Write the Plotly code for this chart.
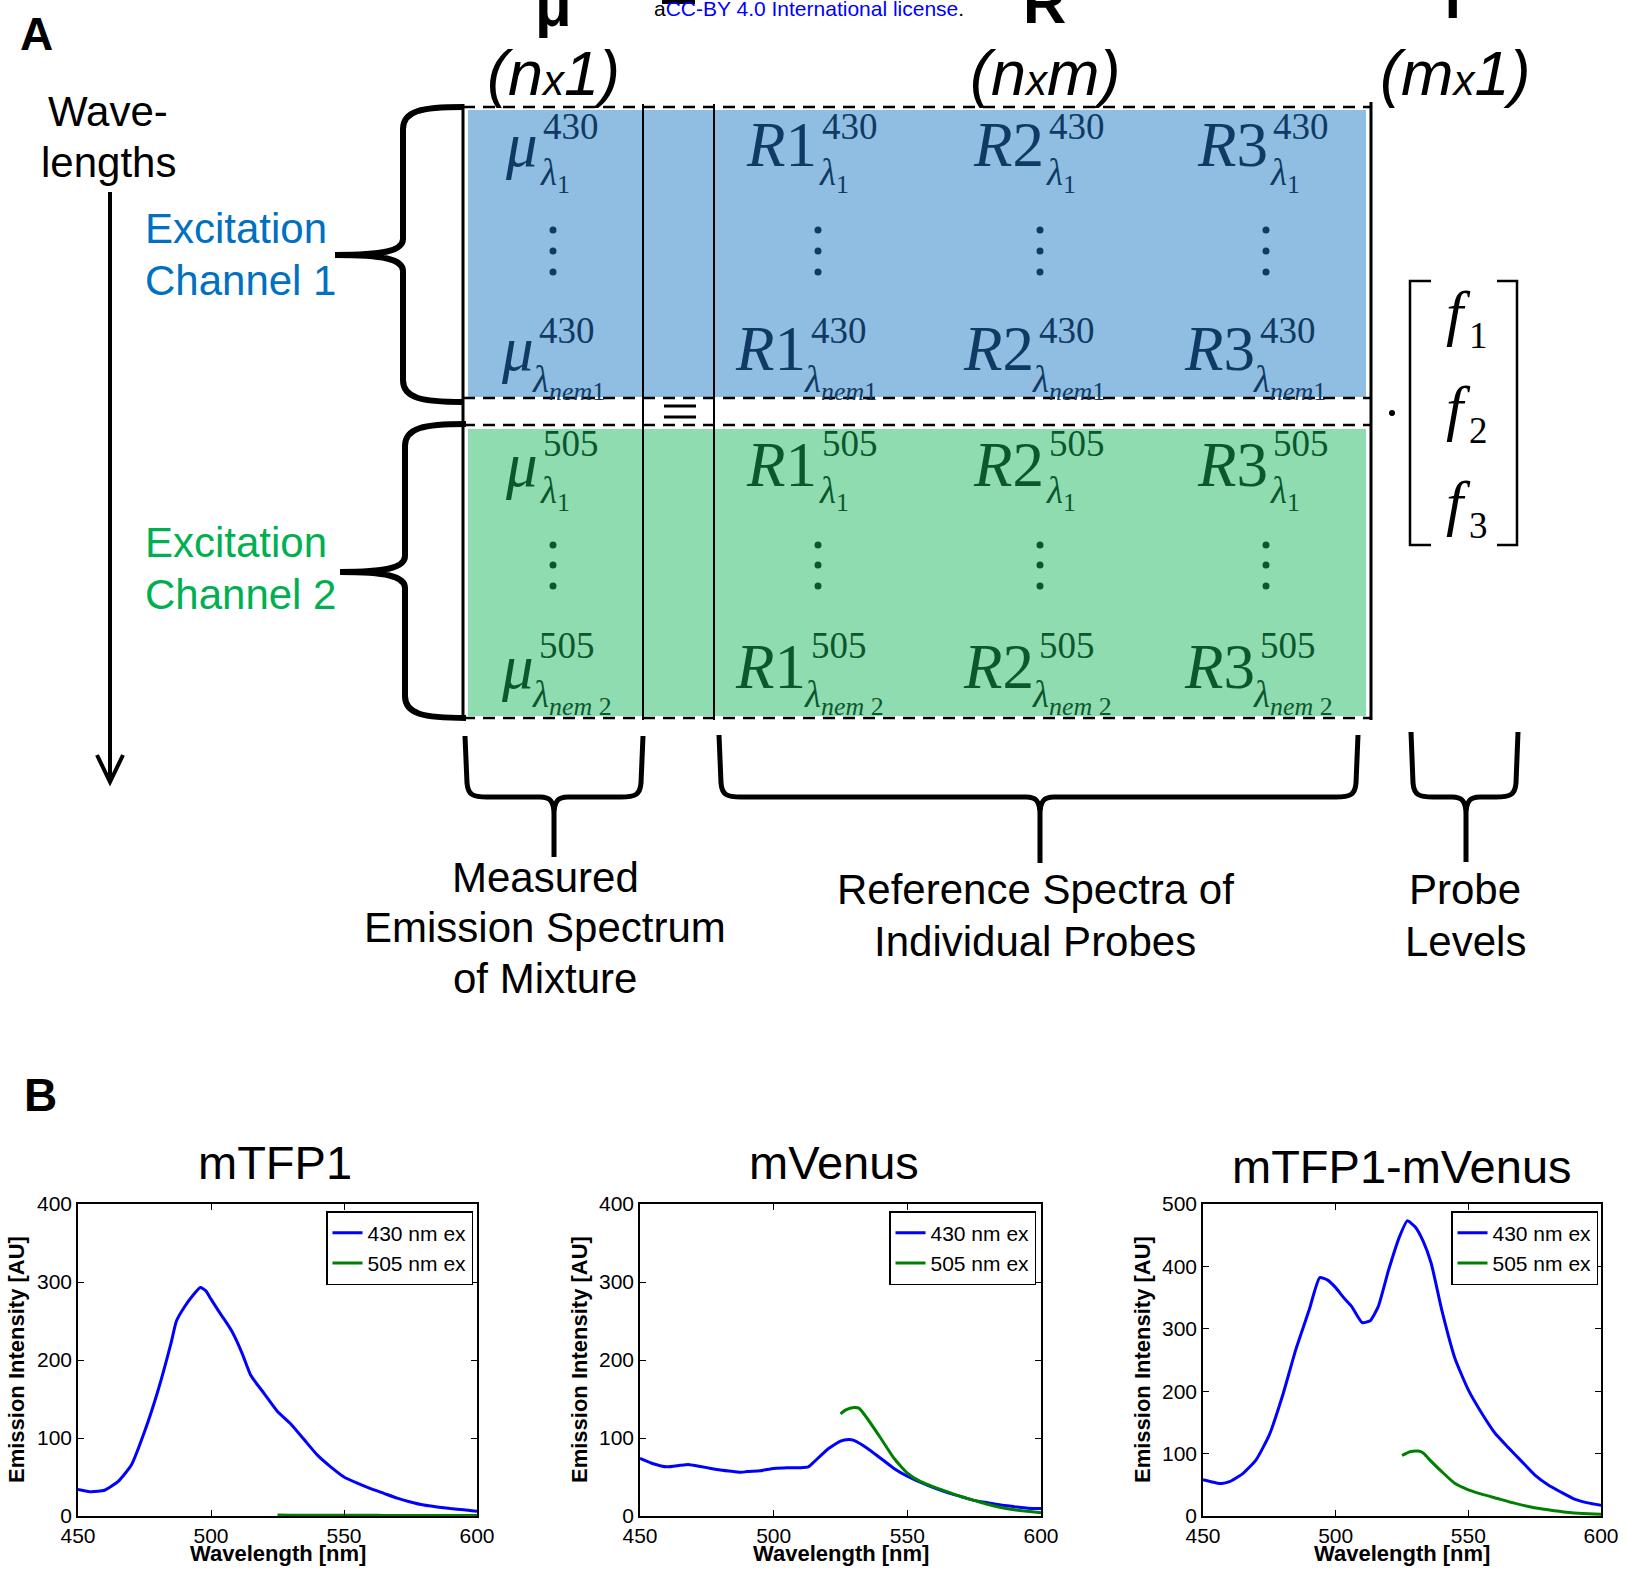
import plotly.graph_objects as go

W, H = 1627, 1569
SANS = "Liberation Sans, Arial, sans-serif"
SERIF = "Liberation Serif, Times New Roman, serif"

# ---------------- Panel B data ----------------
series_names = ["430 nm ex", "505 nm ex"]
chart_titles = ["mTFP1", "mVenus", "mTFP1-mVenus"]
x_ticks = [450, 500, 550, 600]
y_ticks_400 = [0, 100, 200, 300, 400]
y_ticks_500 = [0, 100, 200, 300, 400, 500]

tfp_430_x = [450, 455, 460, 465, 470, 475, 480, 485, 487, 490, 493, 496, 498, 500, 503, 505, 508, 510,
             512, 515, 520, 525, 530, 535, 540, 545, 550, 555, 560, 565, 570, 575, 580, 585, 590, 595, 600]
tfp_430_y = [34, 31, 33, 44, 65, 108, 160, 222, 250, 268, 282, 293, 289, 278, 262, 252, 236, 222,
             206, 180, 157, 134, 118, 98, 78, 63, 50, 42, 35, 29, 23, 18, 14, 11.5, 9.5, 8, 6]
tfp_505_x = [525, 530, 535, 540, 545, 550, 555, 560, 565, 570, 575, 580, 585, 590, 595, 600]
tfp_505_y = [1.2, 1.1, 1.0, 1.0, 1.0, 0.9, 0.9, 0.9, 0.8, 0.8, 0.8, 0.8, 0.7, 0.7, 0.7, 0.7]

ven_430_x = [450, 455, 460, 465, 468, 470, 475, 480, 485, 488, 490, 495, 500, 505, 510, 513, 515, 520,
             525, 528, 530, 535, 540, 545, 550, 555, 560, 565, 570, 575, 580, 585, 590, 595, 600]
ven_430_y = [74, 67, 63, 65, 66, 65, 62, 59, 57, 56, 57, 58, 61, 62, 62, 63, 69, 85,
             96, 98, 97, 87, 74, 61, 51, 43, 36, 30, 25, 20, 17, 14, 12, 10, 9.5]
ven_505_x = [525, 527, 530, 532, 535, 540, 545, 550, 555, 560, 565, 570, 575, 580, 585, 590, 595, 600]
ven_505_y = [131, 136, 139, 138, 125, 100, 74, 55, 44, 37, 31, 25, 20, 15, 11, 8, 6, 4]

fus_430_x = [450, 455, 457, 460, 465, 470, 475, 480, 485, 490, 494, 497, 500, 503, 506, 510, 513, 516,
             520, 524, 527, 530, 533, 536, 540, 545, 550, 555, 560, 565, 570, 575, 580, 585, 590, 595, 600]
fus_430_y = [58, 53, 52, 55, 68, 90, 130, 193, 267, 330, 382, 378, 366, 350, 336, 310, 313, 335,
             395, 447, 473, 463, 440, 405, 330, 252, 202, 165, 133, 110, 88, 66, 50, 38, 27, 21, 17]
fus_505_x = [525, 528, 531, 533, 535, 540, 545, 550, 555, 561, 567, 574, 580, 587, 593, 600]
fus_505_y = [97, 103, 104, 101, 92, 71, 52, 42, 35, 28, 21, 14, 10, 6, 4, 3]

# ---------------- Panel A text ----------------
mat_main = ["<i>μ</i>", "<i>R</i>1", "<i>R</i>2", "<i>R</i>3"]
mat_sup = ["430", "430", "505", "505"]
mat_sub = ["<i>λ</i><sub>1</sub>", "<i>λ</i><sub><i>nem</i>1</sub>",
           "<i>λ</i><sub>1</sub>", "<i>λ</i><sub><i>nem</i> 2</sub>"]
label_wave = ["Wave-", "lengths"]
label_ch1 = ["Excitation", "Channel 1"]
label_ch2 = ["Excitation", "Channel 2"]
label_measured = ["Measured", "Emission Spectrum", "of Mixture"]
label_reference = ["Reference Spectra of", "Individual Probes"]
label_probe = ["Probe", "Levels"]

BLUE_FILL = "rgb(143,190,226)"
GREEN_FILL = "rgb(144,220,177)"
BLUE_TXT = "rgb(16,58,99)"
GREEN_TXT = "rgb(11,88,44)"
CH1 = "rgb(0,112,192)"
CH2 = "rgb(0,176,80)"


def X(x):
    return x / W


def Y(y):
    return 1 - y / H


shapes = []
annotations = []


def rect(x0, y0, x1, y1, fill, layer="below"):
    shapes.append(dict(type="rect", xref="paper", yref="paper", x0=X(x0), x1=X(x1), y0=Y(y1), y1=Y(y0),
                       fillcolor=fill, line=dict(width=0), layer=layer))


def line(x0, y0, x1, y1, width=2, color="black", dash="solid"):
    shapes.append(dict(type="line", xref="paper", yref="paper", x0=X(x0), y0=Y(y0), x1=X(x1), y1=Y(y1),
                       line=dict(width=width, color=color, dash=dash)))


def path(segs, width=5, color="black"):
    s = ""
    for cmd, pts in segs:
        if cmd in ("M", "L"):
            for a, b in pts:
                s += f"{cmd} {X(a):.6f},{Y(b):.6f} "
        else:
            s += cmd + " " + " ".join(f"{X(a):.6f},{Y(b):.6f}" for a, b in pts) + " "
    shapes.append(dict(type="path", xref="paper", yref="paper", path=s.strip(),
                       line=dict(width=width, color=color), fillcolor="rgba(0,0,0,0)"))


def circle(cx, cy, r, color):
    shapes.append(dict(type="circle", xref="paper", yref="paper", x0=X(cx - r), x1=X(cx + r),
                       y0=Y(cy + r), y1=Y(cy - r), fillcolor=color, line=dict(width=0)))


def txt(x, y, text, size, color="black", family=SANS, xanchor="center", yanchor="middle",
        align="center", angle=0):
    annotations.append(dict(x=X(x), y=Y(y), xref="paper", yref="paper", text=text, showarrow=False,
                            font=dict(size=size, color=color, family=family), xanchor=xanchor,
                            yanchor=yanchor, align=align, textangle=angle, borderpad=0))


def lines_txt(x, ys, texts, size, color="black", xanchor="center"):
    for yy, t in zip(ys, texts):
        txt(x, yy, t, size, color, xanchor=xanchor)


def left_brace(xe, ytop, ybot, xs, xtip, ytip, w=6):
    path([("M", [(xe, ytop)]),
          ("C", [(xs + 18, ytop), (xs, ytop + 4), (xs, ytop + 22)]),
          ("L", [(xs, ytip - 16)]),
          ("C", [(xs, ytip - 4), (xs - 20, ytip), (xtip, ytip)]),
          ("C", [(xs - 20, ytip), (xs, ytip + 4), (xs, ytip + 16)]),
          ("L", [(xs, ybot - 22)]),
          ("C", [(xs, ybot - 4), (xs + 18, ybot), (xe, ybot)])], width=w)


def bottom_brace(xl, xr, xt, ytop, yh, ytip, w=5):
    path([("M", [(xl, ytop)]),
          ("L", [(xl + 2, yh - 14)]),
          ("C", [(xl + 3, yh - 2), (xl + 8, yh), (xl + 22, yh)]),
          ("L", [(xt - 14, yh)]),
          ("C", [(xt - 4, yh), (xt, yh + 4), (xt, yh + 18)]),
          ("L", [(xt, ytip)]),
          ("M", [(xr, ytop)]),
          ("L", [(xr - 2, yh - 14)]),
          ("C", [(xr - 3, yh - 2), (xr - 8, yh), (xr - 22, yh)]),
          ("L", [(xt + 14, yh)]),
          ("C", [(xt + 4, yh), (xt, yh + 4), (xt, yh + 18)])], width=w)


# ---------- Panel A drawing ----------
rect(468, 110, 1366, 397, BLUE_FILL)
rect(468, 429, 1366, 716, GREEN_FILL)

DASH = "12px,8px"
for yy in (107, 398, 425, 718):
    line(463, yy, 1370, yy, width=2.5, dash=DASH)
line(463, 104, 463, 720, width=3)
line(643, 104, 643, 720, width=2)
line(714, 104, 714, 720, width=2)
line(1371, 102, 1371, 720, width=3)
# equals sign
line(664, 406, 696, 406, width=3)
line(664, 417, 696, 417, width=3)

# left braces
left_brace(463, 107, 402, 403, 335, 255)
left_brace(466, 424, 718, 405, 340, 572)
# bottom braces
bottom_brace(465, 643, 554, 736, 797, 857)
bottom_brace(719, 1358, 1040, 735, 797, 863)
bottom_brace(1411, 1518, 1466, 732, 797, 862)

# wavelength arrow
line(110, 192, 110, 780, width=4)
path([("M", [(97, 755)]), ("L", [(110, 782), (123, 755)])], width=4)

# vector brackets
path([("M", [(1431, 281)]), ("L", [(1410, 281), (1410, 545), (1431, 545)])], width=2.5)
path([("M", [(1497, 281)]), ("L", [(1517, 281), (1517, 545), (1497, 545)])], width=2.5)
circle(1392, 413, 3, "black")

# matrix dots
dot_x = [553, 818, 1040, 1266]
for cx in dot_x:
    for cy in (230, 251, 272):
        circle(cx, cy, 3.5, BLUE_TXT)
    for cy in (545, 565, 586):
        circle(cx, cy, 3.5, GREEN_TXT)

# matrix entries
main_right = [[539, 818, 1045, 1269], [535, 807, 1035, 1256], [539, 818, 1045, 1269], [535, 807, 1035, 1256]]
row_main_y = [145, 349, 465, 667]
row_sup_y = [127, 330, 444, 645]
row_sub_y = [175, 382, 493, 697]
for r in range(4):
    col = BLUE_TXT if r < 2 else GREEN_TXT
    for c in range(4):
        xr = main_right[r][c]
        txt(xr, row_main_y[r], mat_main[c], 63, col, SERIF, xanchor="right")
        txt(xr + 3, row_sup_y[r], mat_sup[r], 37, col, SERIF, xanchor="left")
        sub_dx = 0 if r in (0, 2) else -4
        txt(xr + sub_dx, row_sub_y[r], mat_sub[r], 37, col, SERIF, xanchor="left")

# f vector
for yy, sub in zip((313, 408, 503), ("1", "2", "3")):
    txt(1458, yy, "<i>f</i>", 62, "black", SERIF)
    txt(1478, yy + 22, sub, 37, "black", SERIF)

# column headers
txt(553, 73, "<i>(n<span style='font-size:42px'>x</span>1)</i>", 63)
txt(1045, 73, "<i>(n<span style='font-size:42px'>x</span>m)</i>", 63)
txt(1455, 73, "<i>(m<span style='font-size:42px'>x</span>1)</i>", 63)
# cut-off big header symbols
txt(553, 6, "<b>μ</b>", 60)
txt(1044, 3, "<b>R</b>", 60)
txt(1453, -3, "<b>f</b>", 60)
rect(662, 0, 695, 4, "black", layer="above")
txt(653, 9, "<span style='color:black'>a</span>CC-BY 4.0 International license<span style='color:black'>.</span>",
    21, "rgb(0,0,255)", xanchor="left")

# labels
txt(36, 34, "<b>A</b>", 46)
txt(40, 1095, "<b>B</b>", 46)
lines_txt(108, [111, 163], label_wave, 42)
lines_txt(144, [228, 281], label_ch1, 42, CH1, xanchor="left")
lines_txt(144, [542, 594], label_ch2, 42, CH2, xanchor="left")
lines_txt(545, [877, 927, 978], label_measured, 42)
lines_txt(1035, [890, 941], label_reference, 42)
lines_txt(1465, [890, 941], label_probe, 42)

# ---------- Panel B ----------
fig = go.Figure()
data_sets = [
    (tfp_430_x, tfp_430_y, tfp_505_x, tfp_505_y),
    (ven_430_x, ven_430_y, ven_505_x, ven_505_y),
    (fus_430_x, fus_430_y, fus_505_x, fus_505_y),
]
legend_ids = ["legend", "legend2", "legend3"]
for i, (bx, by, gx, gy) in enumerate(data_sets):
    xa = "x" if i == 0 else f"x{i + 1}"
    ya = "y" if i == 0 else f"y{i + 1}"
    fig.add_trace(go.Scatter(x=bx, y=by, mode="lines", name=series_names[0], xaxis=xa, yaxis=ya,
                             line=dict(color="rgb(0,0,255)", width=3, shape="spline", smoothing=0.5),
                             legend=legend_ids[i]))
    fig.add_trace(go.Scatter(x=gx, y=gy, mode="lines", name=series_names[1], xaxis=xa, yaxis=ya,
                             line=dict(color="rgb(0,128,0)", width=3, shape="spline", smoothing=0.5),
                             legend=legend_ids[i]))

x_dom = [(78, 477), (640, 1041), (1203, 1601)]
y_dom = [Y(1516), Y(1204)]
y_ranges = [[0, 400], [0, 400], [0, 500]]
y_tickv = [y_ticks_400, y_ticks_400, y_ticks_500]
tickfont = dict(family=SANS, size=21, color="black")
layout_axes = {}
for i in range(3):
    sx = "xaxis" if i == 0 else f"xaxis{i + 1}"
    sy = "yaxis" if i == 0 else f"yaxis{i + 1}"
    ya = "y" if i == 0 else f"y{i + 1}"
    xa = "x" if i == 0 else f"x{i + 1}"
    layout_axes[sx] = dict(domain=[X(x_dom[i][0]), X(x_dom[i][1])], anchor=ya, range=[450, 600],
                           tickvals=x_ticks, ticks="inside", ticklen=6, tickwidth=1.2, tickcolor="black",
                           showline=True, linecolor="black", linewidth=1.5, mirror="ticks",
                           showgrid=False, zeroline=False, tickfont=tickfont)
    layout_axes[sy] = dict(domain=y_dom, anchor=xa, range=y_ranges[i], tickvals=y_tickv[i],
                           ticks="inside", ticklen=6, tickwidth=1.2, tickcolor="black",
                           showline=True, linecolor="black", linewidth=1.5, mirror="ticks",
                           showgrid=False, zeroline=False, tickfont=tickfont)

legend_right = [473, 1036, 1598]
legends = {}
for i, lid in enumerate(legend_ids):
    legends[lid] = dict(x=X(legend_right[i]), y=Y(1211), xanchor="right", yanchor="top", xref="paper",
                        yref="paper", bgcolor="white", bordercolor="black", borderwidth=1.5,
                        font=dict(family=SANS, size=21, color="black"), tracegroupgap=0, itemwidth=30)

title_pos = [(275, 1162), (834, 1162), (1402, 1166)]
for i in range(3):
    txt(title_pos[i][0], title_pos[i][1], chart_titles[i], 47)
y_title_x = [16, 579, 1142]
for i in range(3):
    txt(y_title_x[i], 1360, "<b>Emission Intensity [AU]</b>", 22, angle=-90)
    txt((x_dom[i][0] + x_dom[i][1]) / 2, 1553, "<b>Wavelength [nm]</b>", 22)

fig.update_layout(width=W, height=H, margin=dict(l=0, r=0, t=0, b=0, pad=0, autoexpand=False),
                  paper_bgcolor="white", plot_bgcolor="white", shapes=shapes, annotations=annotations,
                  **layout_axes, **legends)
fig.write_html("out.html")
